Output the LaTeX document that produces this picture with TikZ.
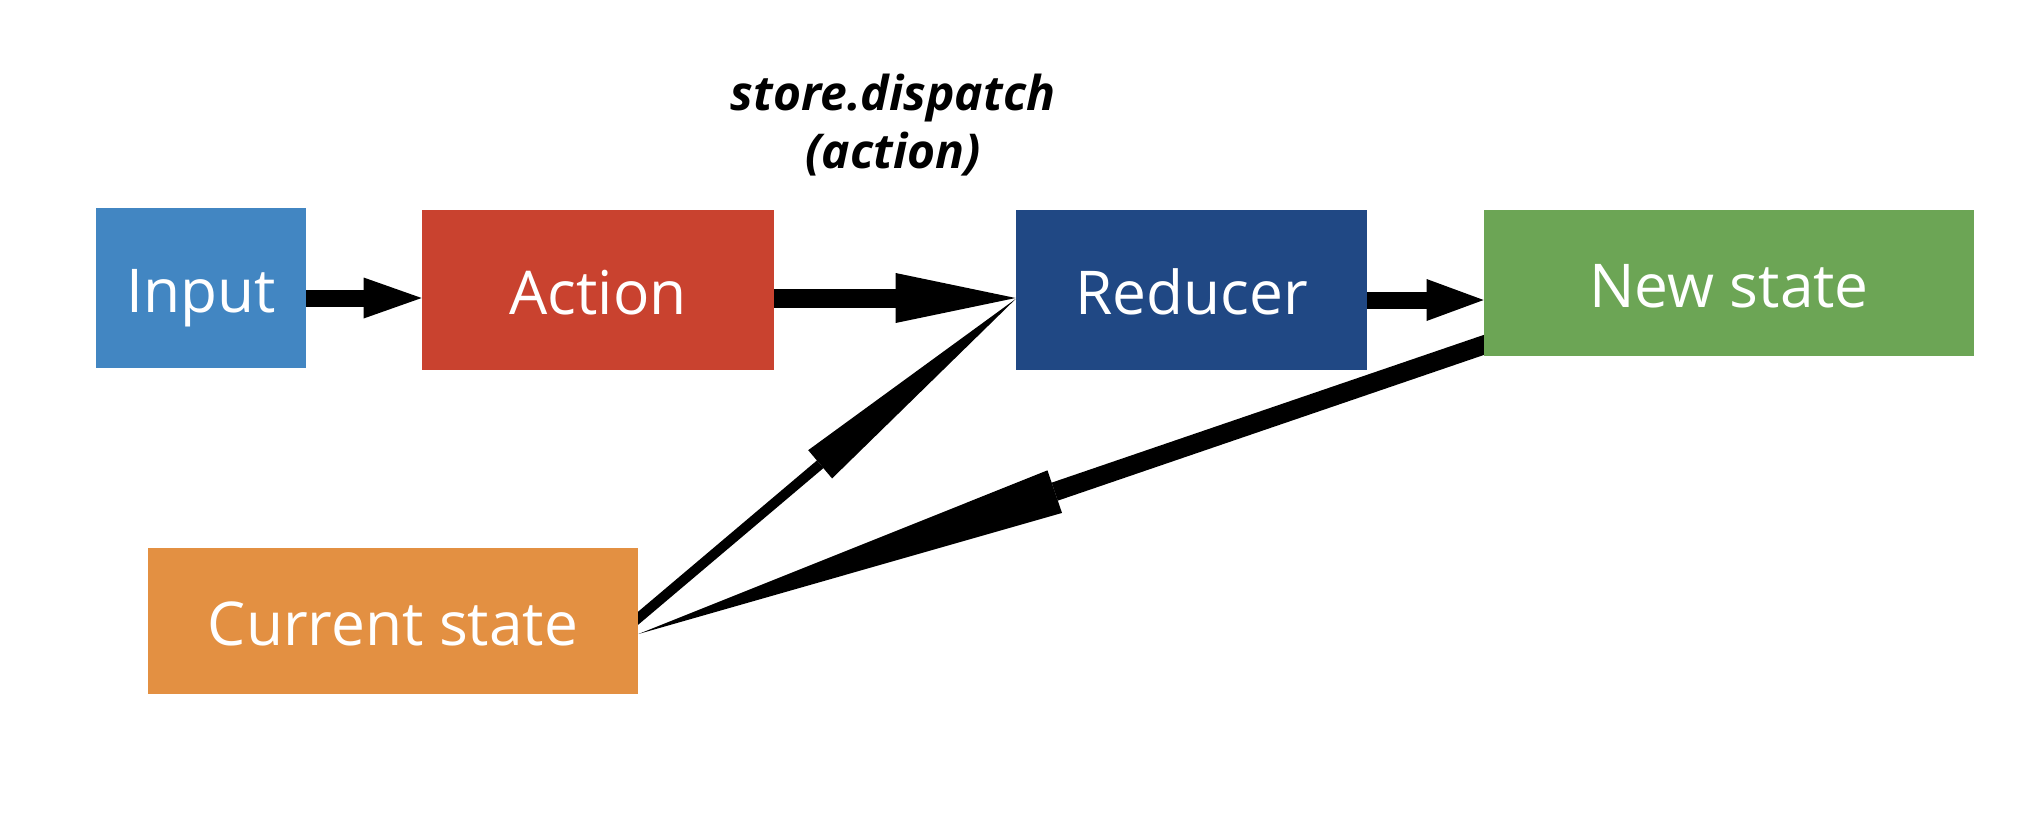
\documentclass[tikz,border=0pt]{standalone}
\usepackage{fontspec}
\setmainfont{Open Sans}
\usetikzlibrary{arrows.meta,calc}
\pgfdeclarelayer{bg}
\pgfsetlayers{bg,main}
\definecolor{cInput}{RGB}{66,134,194}
\definecolor{cAction}{RGB}{201,66,47}
\definecolor{cReducer}{RGB}{32,72,132}
\definecolor{cNew}{RGB}{108,165,85}
\definecolor{cCurrent}{RGB}{227,144,66}
\tikzset{
  box/.style={rectangle, inner sep=0pt, text=white, text height=27pt, text depth=3pt, font=\fontsize{30.2}{36}\selectfont},
  conn/.style={draw=black, fill=black, line cap=butt},
  lbl/.style={align=center, inner sep=0pt, font=\fontsize{24}{29}\selectfont\bfseries\itshape}
}
\begin{document}
\begin{tikzpicture}[x=0.5pt, y=-0.5pt]
\useasboundingbox (0,0) rectangle (2042,836);
\node[box, fill=cInput, minimum width=105pt, minimum height=80pt] (inp) at (201,288) {Input};
\node[box, fill=cAction, minimum width=176pt, minimum height=80pt] (act) at (598,290) {Action};
\node[box, fill=cReducer, minimum width=175.5pt, minimum height=80pt] (red) at (1191.5,290) {Reducer};
\node[box, fill=cNew, minimum width=245pt, minimum height=73pt] (nst) at (1729,283) {New state};
\node[box, fill=cCurrent, minimum width=245pt, minimum height=73pt] (cur) at (393,621) {Current state};
\node[lbl] (disp) at (893,125) {store.dispatch\\(action)};
\coordinate (yA) at (0,298);
\coordinate (yC) at (0,300);
\coordinate (yT) at (0,618);
\coordinate (yR) at (0,299);
\coordinate (yN) at (0,345);
\coordinate (yS) at (0,634);
\begin{pgfonlayer}{bg}
\fill[white] (0,0) rectangle (2042,836);
\draw[conn, line width=8.5pt, -{Triangle[length=29pt,width=20.5pt,line width=0pt]}] (inp.east |- yA) -- (act.west |- yA);
\draw[conn, line width=9.5pt, -{Triangle[length=60pt,width=25pt,line width=0pt]}] (act.east |- yA) -- (red.west |- yA);
\draw[conn, line width=8.5pt, -{Triangle[length=28.5pt,width=21pt,line width=0pt]}] (red.east |- yC) -- (nst.west |- yC);
\draw[conn, line width=5pt, shorten <=-8pt, -{Triangle[length=128pt,width=18.5pt,line width=0pt]}] (cur.east |- yT) -- (red.west |- yR);
\draw[conn, line width=9.5pt, shorten <=-8pt, -{Triangle[length=220pt,width=22.5pt,line width=0pt]}] (nst.west |- yN) -- (cur.east |- yS);
\end{pgfonlayer}
\end{tikzpicture}
\end{document}
